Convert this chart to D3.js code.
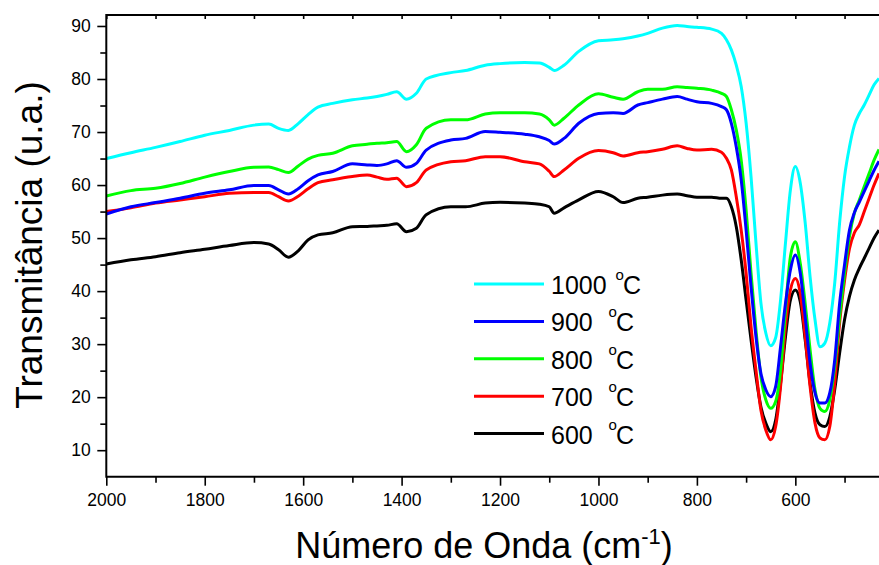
<!DOCTYPE html>
<html>
<head>
<meta charset="utf-8">
<script src="https://cdn.jsdelivr.net/npm/d3@7/dist/d3.min.js"></script>
<style>
  html, body { margin: 0; padding: 0; background: #fff; }
  svg { display: block; font-family: "Liberation Sans", Arial, sans-serif; }
</style>
</head>
<body>
<svg id="chart" width="879" height="565"></svg>
<script>
// Wavenumbers (cm-1) shared by all series
const wavenumbers = [2000,1950,1900,1850,1800,1750,1700, 1670,1650,1630,1610,1590,1570, 1540,1500,1470,1450,1430,1410,
  1390,1370,1350,1300,1270,1230, 1200,1150,1120,1100,1090,1070, 1040,1000,970,950,920,900,
  870,840,820,800,770,750, 740,730,720,710,700,690, 680,670,660,650,640,630,
  620,610,600,590,580,570, 560,550,540,530,520,510, 500,490,480,470,460,450, 440,430];

const t1000 = [65.0,66.1,67.1,68.2,69.4,70.3,71.3, 71.5,70.7,70.3,71.6,73.3,74.7, 75.4,76.1,76.4,76.7,77.1,77.6,
  76.2,77.3,80.0,81.2,81.6,82.6, 82.9,83.1,83.0,82.2,81.6,82.6, 85.2,87.2,87.4,87.6,88.1,88.6,
  89.6,90.1,89.9,89.75,89.4,88.6, 87.4,85.5,82.6,78.6,71.7,61.6, 49.1,37.8,32.1,29.7,31.2,38.3,
  49.1,59.1,63.5,60.4,52.9,42.7, 34.6,29.5,30.2,34.0,41.5,52.9, 61.6,67.2,71.3,73.5,75.1,77.0, 78.9,80.1];

const t900 = [54.55,55.9,56.7,57.5,58.45,59.1,59.9, 59.9,59.1,58.3,59.3,60.8,61.9, 62.55,64.0,63.8,63.7,64.0,64.6,
  63.35,64.1,66.6,68.5,68.8,70.1, 69.95,69.6,69.1,68.4,67.75,68.8, 71.65,73.5,73.65,73.5,75.1,75.55,
  76.2,76.7,76.2,75.7,75.4,74.8, 74.2,71.65,67.2,61.0,51.5,40.85, 31.4,24.5,21.4,20.1,22.0,29.5,
  37.7,44.0,46.8,43.4,35.2,26.4, 20.8,18.9,18.9,20.8,27.0,37.7, 45.0,51.5,54.8,56.8,58.8,60.8, 62.8,64.5];

const t800 = [57.95,58.95,59.4,60.3,61.5,62.55,63.35, 63.4,62.9,62.35,63.6,64.9,65.6, 66.0,67.4,67.7,67.9,68.0,68.2,
  66.3,67.6,70.7,72.3,72.3,73.4, 73.65,73.65,73.4,72.3,71.3,72.6, 75.1,77.2,76.55,76.2,77.6,78.05,
  78.05,78.55,78.4,78.25,77.9,77.3, 76.7,74.2,70.4,64.7,55.3,43.4, 32.7,23.9,19.5,17.9,19.2,25.1,
  36.5,46.5,49.3,45.25,37.7,28.9, 21.4,17.9,17.3,19.5,25.8,35.2, 43.4,50.3,54.7,57.2,59.7,62.2, 64.7,66.7];

const t700 = [55.0,55.7,56.6,57.2,57.8,58.45,58.6, 58.6,57.8,57.0,57.9,59.3,60.45, 61.0,61.6,61.9,61.5,61.1,61.3,
  59.7,60.45,62.85,64.4,64.6,65.35, 65.35,64.4,64.0,62.6,61.6,62.85, 65.05,66.5,66.1,65.5,66.1,66.3,
  66.75,67.4,66.9,66.6,66.75,66.2, 65.05,62.85,57.8,51.5,43.4,33.3, 25.1,17.6,13.8,11.95,14.45,22.0,
  33.3,40.2,42.4,39.6,31.4,22.0, 15.1,12.3,11.95,14.45,22.6,34.0, 42.0,48.0,51.0,52.5,55.0,57.5, 60.0,62.2];

const t600 = [45.1,45.9,46.5,47.25,47.9,48.6,49.15, 48.9,47.8,46.4,47.6,49.65,50.6, 51.0,52.15,52.2,52.3,52.4,52.7,
  51.2,51.85,54.4,55.9,55.9,56.6, 56.75,56.6,56.4,55.9,54.7,55.7, 57.2,58.8,57.8,56.7,57.5,57.7,
  58.1,58.3,58.0,57.7,57.7,57.5, 57.5,55.9,52.15,45.9,38.3,30.8, 23.9,18.2,15.1,13.5,15.7,22.6,
  31.4,38.3,40.2,38.0,30.8,22.6, 17.0,14.8,14.45,16.3,21.4,28.3, 34.6,39.0,42.1,44.3,46.2,48.1, 50.0,51.5];

const seriesNames = ["1000", "900", "800", "700", "600"];
const seriesSpaces = [" ", "  ", "  ", "  ", "  "];
const seriesColors = ["#00FFFF", "#0000FF", "#00FF00", "#FF0000", "#000000"];
const seriesValues = [t1000, t900, t800, t700, t600];

const xMajorTicks = [2000, 1800, 1600, 1400, 1200, 1000, 800, 600];
const xMinorTicks = [1900, 1700, 1500, 1300, 1100, 900, 700, 500];
const yMajorTicks = [10, 20, 30, 40, 50, 60, 70, 80, 90];
const yMinorTicks = [15, 25, 35, 45, 55, 65, 75, 85];

const svg = d3.select("#chart");
const L = 106.3, R = 879, T = 15, B = 476.7;

const x = d3.scaleLinear().domain([2000, 430]).range([L, R]);
const y = d3.scaleLinear().domain([5, 92.07]).range([B, T]);

svg.append("defs").append("clipPath").attr("id", "clip")
  .append("rect").attr("x", L).attr("y", T).attr("width", R - L).attr("height", B - T);

// Series lines (drawn bottom of legend first)
const line = d3.line()
  .x((d) => x(d[0]))
  .y((d) => y(d[1]))
  .curve(d3.curveMonotoneX);

const order = [4, 3, 2, 1, 0];
const g = svg.append("g").attr("clip-path", "url(#clip)");
order.forEach((i) => {
  const pts = wavenumbers.map((w, k) => [w, seriesValues[i][k]]);
  g.append("path").datum(pts)
    .attr("d", line)
    .attr("fill", "none")
    .attr("stroke", seriesColors[i])
    .attr("stroke-width", 3)
    .attr("stroke-linejoin", "round");
});

// Axes
function styleAxis(sel) {
  sel.selectAll(".domain").remove();
  sel.selectAll(".tick line").attr("stroke", "#000").attr("stroke-width", 1.6);
  sel.selectAll(".tick text").attr("fill", "#000").style("font-size", "17.5px")
     .style("font-family", '"Liberation Sans", Arial, sans-serif');
}

svg.append("g").attr("transform", `translate(0,${B})`)
  .call(d3.axisBottom(x).tickValues(xMajorTicks).tickSize(9).tickPadding(8).tickSizeOuter(0).tickFormat(d3.format("d")))
  .call(styleAxis);
svg.append("g").attr("transform", `translate(0,${B})`)
  .call(d3.axisBottom(x).tickValues(xMinorTicks).tickSize(6).tickSizeOuter(0).tickFormat(""))
  .call(styleAxis);

svg.append("g").attr("transform", `translate(0,${T})`)
  .call(d3.axisBottom(x).tickValues(xMajorTicks.concat(xMinorTicks)).tickSize(4).tickSizeOuter(0).tickFormat(""))
  .call(styleAxis);

svg.append("g").attr("transform", `translate(${L},0)`)
  .call(d3.axisLeft(y).tickValues(yMajorTicks).tickSize(9).tickPadding(6.5).tickSizeOuter(0))
  .call(styleAxis);
svg.append("g").attr("transform", `translate(${L},0)`)
  .call(d3.axisLeft(y).tickValues(yMinorTicks).tickSize(6).tickSizeOuter(0).tickFormat(""))
  .call(styleAxis);

// Axis lines
svg.append("line").attr("x1", L).attr("x2", R).attr("y1", B).attr("y2", B).attr("stroke", "#000").attr("stroke-width", 2);
svg.append("line").attr("x1", L).attr("x2", R).attr("y1", T).attr("y2", T).attr("stroke", "#000").attr("stroke-width", 2);
svg.append("line").attr("x1", L).attr("x2", L).attr("y1", T - 1).attr("y2", B + 1).attr("stroke", "#000").attr("stroke-width", 2);

// Axis titles
const xt = svg.append("text").attr("x", (291 + 677) / 2).attr("y", 558)
  .attr("text-anchor", "middle").style("font-size", "36px").attr("fill", "#000");
xt.append("tspan").text("Número de Onda (cm");
xt.append("tspan").attr("dy", -14).style("font-size", "22px").text("-1");
xt.append("tspan").attr("dy", 14).text(")");

svg.append("text").attr("transform", "translate(42,245) rotate(-90)")
  .attr("text-anchor", "middle").style("font-size", "37px").attr("fill", "#000")
  .text("Transmitância (u.a.)");

// Legend
const legY0 = 284, legDy = 37.4;
seriesNames.forEach((name, i) => {
  const yy = legY0 + i * legDy;
  svg.append("line").attr("x1", 474).attr("x2", 544).attr("y1", yy).attr("y2", yy)
    .attr("stroke", seriesColors[i]).attr("stroke-width", 3);
  const t = svg.append("text").attr("x", 551).attr("y", yy + 10).style("font-size", "25px")
    .attr("fill", "#000").attr("xml:space", "preserve").style("white-space", "pre");
  t.append("tspan").text(name + seriesSpaces[i]);
  t.append("tspan").attr("dx", 2).attr("dy", -14).style("font-size", "15px").text("o");
  t.append("tspan").attr("dx", -1).attr("dy", 14).text("C");
});
</script>
</body>
</html>
